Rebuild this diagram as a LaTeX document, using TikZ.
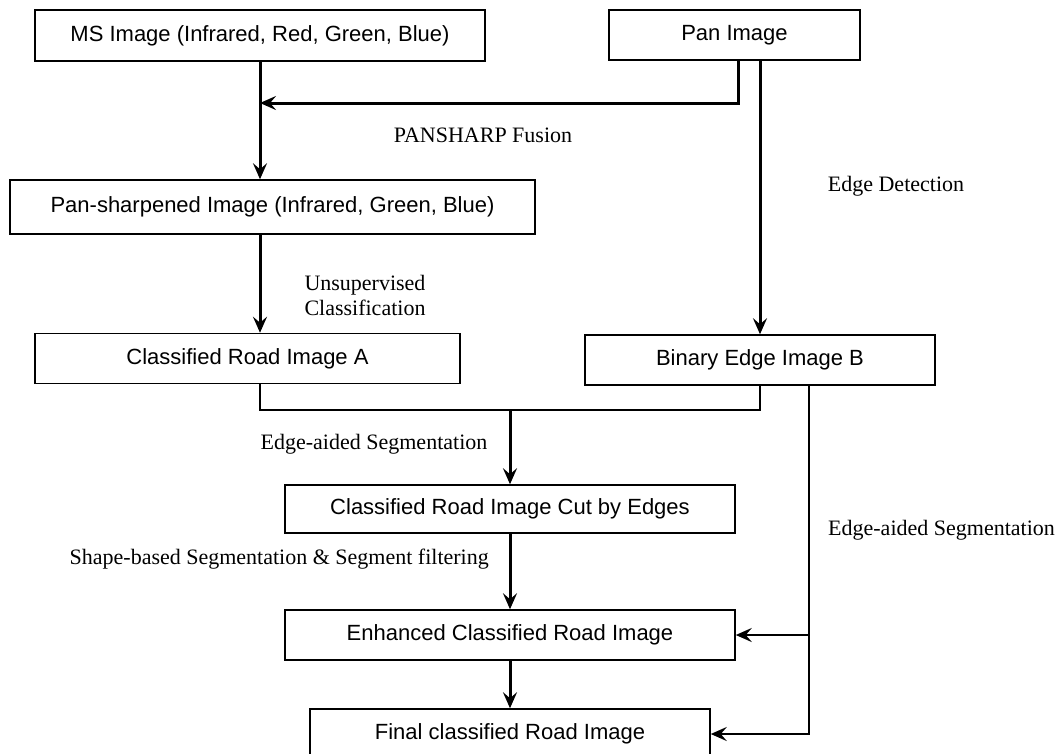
\documentclass[tikz,border=0pt]{standalone}
\usepackage{fontspec}
\setmainfont{Liberation Serif}
\setsansfont{Liberation Sans}
\usetikzlibrary{arrows.meta,positioning}
\tikzset{
  box/.style={draw, line width=1.5pt, inner sep=0pt, font=\sffamily\fontsize{22}{26}\selectfont},
  lbl/.style={inner sep=0pt, font=\rmfamily\fontsize{22}{25}\selectfont},
  arr/.style={line width=3pt, -{Stealth[length=16pt,width=14pt,inset=6pt]}},
  sidearr/.style={line width=2.6pt, -{Stealth[length=16pt,width=14pt,inset=6pt]}},
  link/.style={line width=2pt},
}
\begin{document}
\begin{tikzpicture}[x=1pt,y=-1pt]
\useasboundingbox (0,0) rectangle (1063,753);
% boxes
\node[box, minimum width=450, minimum height=51] (MS) at (260,35.5) {MS Image (Infrared, Red, Green, Blue)};
\node[box, minimum width=251, minimum height=50] (Pan) at (734.5,35) {Pan Image};
\node[box, minimum width=525, minimum height=54] (PS) at (272.5,207) {Pan-sharpened Image (Infrared, Green, Blue)};
\node[box, minimum width=425, minimum height=50] (A) at (247.5,358.5) {Classified Road Image A};
\node[box, minimum width=350, minimum height=50] (B) at (760,360) {Binary Edge Image B};
\node[box, minimum width=450, minimum height=48] (Cut) at (510,509) {Classified Road Image Cut by Edges};
\node[box, minimum width=450, minimum height=50] (Enh) at (510,635) {Enhanced Classified Road Image};
\node[box, minimum width=400, minimum height=50] (Fin) at (510,734) {Final classified Road Image};
% helper coordinates
\coordinate (fy) at (0,103);
\coordinate (jy) at (0,410);
% labels
\node[lbl] (lfus) at (483,135) {PANSHARP Fusion};
\node[lbl] (ledge) at (896,186) {Edge Detection};
\node[lbl, align=left] (lunsup) at (365,295) {Unsupervised\\Classification};
\node[lbl] (leas1) at (374,444) {Edge-aided Segmentation};
\node[lbl, anchor=east] (lshape) at (489,559) {Shape-based Segmentation \& Segment filtering};
\node[lbl, anchor=west] (leas2) at (828,530) {Edge-aided Segmentation};
% connectors
\draw[arr] (MS.south) -- (MS.south |- PS.north);
\draw[arr] ([xshift=3.5pt]Pan.south) |- (MS.south |- fy);
\draw[arr] ([xshift=25.5pt]Pan.south) -- (B.north);
\draw[arr] (MS.south |- PS.south) -- (MS.south |- A.north);
\draw[link] (MS.south |- A.south) |- (B.south |- jy) -- (B.south);
\draw[arr] (Cut.north |- jy) -- (Cut.north);
\draw[arr] (Cut.south) -- (Enh.north);
\draw[arr] (Enh.south) -- (Fin.north);
\draw[sidearr] ([xshift=49pt]B.south) |- (Fin.east);
\draw[sidearr] ([xshift=49pt]B.south |- Enh.east) -- (Enh.east);
\end{tikzpicture}
\end{document}
